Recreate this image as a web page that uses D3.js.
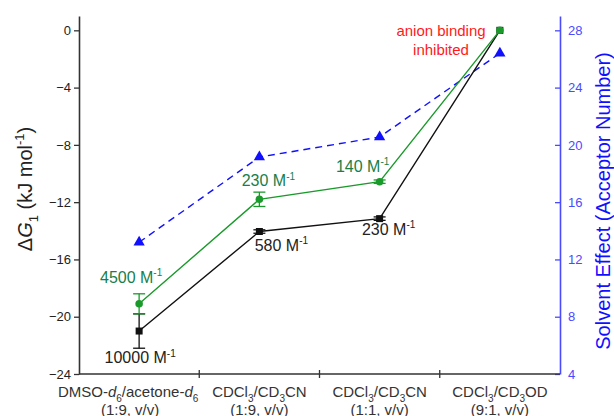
<!DOCTYPE html>
<html>
<head>
<meta charset="utf-8">
<script src="https://cdn.jsdelivr.net/npm/d3@7"></script>
<style>
  body { margin: 0; background: #fff; }
  svg { font-family: Arial, "Liberation Sans", sans-serif; }
</style>
</head>
<body>
<svg id="chart" width="614" height="416"></svg>
<script>
// Solvent systems (x categories)
const categories = ["dmso", "cn19", "cn11", "od91"];
const catLine2 = ["(1:9, v/v)", "(1:9, v/v)", "(1:1, v/v)", "(9:1, v/v)"];

// ΔG1 (kJ/mol) with errors, two series
const blackDG = [-21.0, -14.05, -13.15, 0];
const blackErr = [1.2, 0.12, 0.12, 0];
const greenDG = [-19.1, -11.8, -10.57, 0];
const greenErr = [0.7, 0.5, 0.12, 0];

// Acceptor numbers (right axis)
const acceptorNumber = [13.2, 19.15, 20.55, 26.4];

// Binding constant labels
const greenLabels = ["4500", "230", "140", null];
const blackLabels = ["10000", "580", "230", null];

const leftTicks = [0, -4, -8, -12, -16, -20, -24];
const rightTicks = [4, 8, 12, 16, 20, 24, 28];

const svg = d3.select("#chart");
const L = 79, R = 560, T = 16, B = 374;

const x = d3.scaleBand().domain(categories).range([L, R]).padding(0);
const y = d3.scaleLinear().domain([-24, 1]).range([B, T]);
const y2 = d3.scaleLinear().domain([4, 29]).range([B, T]);
const cx = c => x(c) + x.bandwidth() / 2;

const GREEN = "#1a9a2a", GREEN_TXT = "#17804a", BLUE = "#1010ff", AX_BLUE = "#4a4aff", DARK = "#333";

// Rich text helper: segments of {t, s: "sub"|"sup", i: italic}
function rich(textSel, segs, base, small) {
  let shift = 0;
  segs.forEach(sg => {
    const target = sg.s === "sub" ? small * 0.45 : sg.s === "sup" ? -base * 0.4 : 0;
    const ts = textSel.append("tspan").attr("dy", target - shift).text(sg.t);
    if (sg.s) ts.attr("font-size", small);
    if (sg.i) ts.attr("font-style", "italic");
    shift = target;
  });
}

// Left axis
const gL = svg.append("g").attr("transform", `translate(${L},0)`)
  .call(d3.axisLeft(y).tickValues(leftTicks).tickSize(5).tickSizeOuter(0).tickFormat(d3.format("d")));
gL.select(".domain").attr("stroke", DARK).attr("stroke-width", 1.6);
gL.selectAll(".tick line").attr("stroke", DARK).attr("stroke-width", 1.3);
gL.selectAll(".tick text").attr("font-size", 13).attr("fill", "#222").attr("x", -8);

// Right axis (ticks pointing inward)
const gR = svg.append("g").attr("transform", `translate(${R},0)`)
  .call(d3.axisRight(y2).tickValues(rightTicks).tickSize(-5).tickSizeOuter(0));
gR.select(".domain").attr("stroke", AX_BLUE).attr("stroke-width", 1.6);
gR.selectAll(".tick line").attr("stroke", AX_BLUE).attr("stroke-width", 1.3);
gR.selectAll(".tick text").attr("font-size", 13).attr("fill", AX_BLUE).attr("x", 8);

// Bottom axis with ticks between categories
const gB = svg.append("g").attr("transform", `translate(0,${B})`);
gB.append("line").attr("x1", L).attr("x2", R).attr("stroke", DARK).attr("stroke-width", 1.6);
categories.slice(1).forEach(c => {
  gB.append("line").attr("x1", x(c)).attr("x2", x(c)).attr("y1", -4).attr("y2", 4)
    .attr("stroke", DARK).attr("stroke-width", 1.3);
});

// Category labels
const xl = svg.append("g").attr("font-size", 15).attr("fill", "#333").attr("text-anchor", "middle");
const catLine1 = [
  [{t: "DMSO-"}, {t: "d", i: true}, {t: "6", s: "sub"}, {t: "/acetone-"}, {t: "d", i: true}, {t: "6", s: "sub"}],
  [{t: "CDCl"}, {t: "3", s: "sub"}, {t: "/CD"}, {t: "3", s: "sub"}, {t: "CN"}],
  [{t: "CDCl"}, {t: "3", s: "sub"}, {t: "/CD"}, {t: "3", s: "sub"}, {t: "CN"}],
  [{t: "CDCl"}, {t: "3", s: "sub"}, {t: "/CD"}, {t: "3", s: "sub"}, {t: "OD"}]
];
catLine1.forEach((segs, i) => {
  const t = xl.append("text").attr("x", cx(categories[i]) - (i === 0 ? 11 : 0)).attr("y", 397);
  rich(t, segs, 15, 10);
});
catLine2.forEach((s, i) => {
  xl.append("text").attr("x", cx(categories[i]) - (i === 0 ? 9 : 0)).attr("y", 415).text(s);
});

// Axis titles
const lt = svg.append("text").attr("transform", `translate(32,189) rotate(-90)`)
  .attr("text-anchor", "middle").attr("font-size", 20).attr("fill", "#222");
rich(lt, [{t: "Δ"}, {t: "G", i: true}, {t: "1", s: "sub"}, {t: " (kJ mol"}, {t: "-1", s: "sup"}, {t: ")"}], 20, 13);

svg.append("text").attr("transform", `translate(610,201) rotate(-90)`)
  .attr("text-anchor", "middle").attr("font-size", 20).attr("fill", BLUE)
  .text("Solvent Effect (Acceptor Number)");

// Blue dashed acceptor-number line with triangles
const lineAN = d3.line().x((d, i) => cx(categories[i])).y(d => y2(d));
svg.append("path").datum(acceptorNumber).attr("d", lineAN)
  .attr("fill", "none").attr("stroke", BLUE).attr("stroke-width", 1.4).attr("stroke-dasharray", "7,5");
svg.selectAll(".tri").data(acceptorNumber).join("path")
  .attr("transform", (d, i) => `translate(${cx(categories[i])},${y2(d)})`)
  .attr("d", d3.symbol(d3.symbolTriangle, 55)).attr("fill", BLUE);

// Series drawing helper
function series(vals, errs, color, symbolType, size) {
  const ln = d3.line().x((d, i) => cx(categories[i])).y(d => y(d));
  svg.append("path").datum(vals).attr("d", ln).attr("fill", "none").attr("stroke", color).attr("stroke-width", 1.4);
  vals.forEach((v, i) => {
    const e = errs[i];
    if (e > 0) {
      const px = cx(categories[i]);
      const g = svg.append("g").attr("stroke", color).attr("stroke-width", 1.3);
      g.append("line").attr("x1", px).attr("x2", px).attr("y1", y(v - e)).attr("y2", y(v + e));
      [v - e, v + e].forEach(w => g.append("line").attr("x1", px - 6).attr("x2", px + 6).attr("y1", y(w)).attr("y2", y(w)));
    }
  });
  svg.append("g").selectAll("path").data(vals).join("path")
    .attr("transform", (d, i) => `translate(${cx(categories[i])},${y(d)})`)
    .attr("d", d3.symbol(symbolType, size)).attr("fill", color);
}
series(blackDG, blackErr, "#111", d3.symbolSquare, 49);
series(greenDG, greenErr, GREEN, d3.symbolCircle, 45);

// Binding constant labels
function kLabel(txt, px, py, color) {
  const t = svg.append("text").attr("x", px).attr("y", py).attr("text-anchor", "middle")
    .attr("font-size", 16).attr("fill", color);
  rich(t, [{t: txt + " M"}, {t: "-1", s: "sup"}], 16, 10);
}
const gOff = [[-8, -21], [9, -13], [-17, -10]];
const bOff = [[1, 32], [22, 19], [9, 16]];
greenLabels.forEach((s, i) => { if (s) kLabel(s, cx(categories[i]) + gOff[i][0], y(greenDG[i]) + gOff[i][1], GREEN_TXT); });
blackLabels.forEach((s, i) => { if (s) kLabel(s, cx(categories[i]) + bOff[i][0], y(blackDG[i]) + bOff[i][1], "#222"); });

// Annotation for the last solvent
const ann = svg.append("text").attr("text-anchor", "middle").attr("font-size", 15).attr("fill", "#ff1a1a");
ann.append("tspan").attr("x", 441).attr("y", 36).text("anion binding");
ann.append("tspan").attr("x", 441).attr("y", 55).text("inhibited");
</script>
</body>
</html>
